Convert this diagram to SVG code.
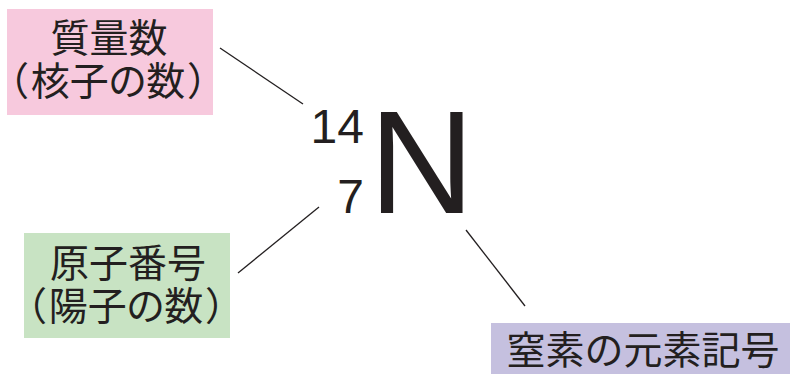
<svg xmlns="http://www.w3.org/2000/svg" width="790" height="374" viewBox="0 0 790 374">
<style>
.jp{font-family:"Noto Sans CJK JP","Noto Sans",sans-serif;font-size:39px;fill:#231f20;text-anchor:middle}
.pa{font-feature-settings:"palt"}
.el{font-family:"Liberation Sans",Arial,sans-serif;fill:#231f20}
.conn line{stroke:#231f20;stroke-width:1.3}
</style>
<rect width="790" height="374" fill="#ffffff"/>
<g id="mass-number">
<rect x="7" y="9" width="206" height="106" fill="#f7c9dd"/>
<text class="jp" x="109" y="52">質量数</text>
<text class="jp pa" x="108" y="95">（<tspan dx="3">核子の数</tspan><tspan dx="3">）</tspan></text>
</g>
<g id="atomic-number">
<rect x="24" y="233" width="206" height="105" fill="#c8e3c3"/>
<text class="jp" x="128" y="277">原子番号</text>
<text class="jp pa" x="126" y="320">（<tspan dx="3">陽子の数</tspan><tspan dx="3">）</tspan></text>
</g>
<g id="element-symbol">
<rect x="491" y="323" width="299" height="51" fill="#c5c0df"/>
<text class="jp" x="643" y="364">窒素の元素記号</text>
</g>
<g id="nuclide">
<text class="el" x="364" y="143" font-size="48" text-anchor="end">14</text>
<text class="el" x="364" y="213" font-size="48" text-anchor="end">7</text>
<text class="el" x="369" y="213" font-size="146">N</text>
</g>
<g class="conn" id="connectors">
<line x1="220" y1="48" x2="303" y2="104"/>
<line x1="238" y1="273" x2="319" y2="207"/>
<line x1="466" y1="230" x2="525" y2="306"/>
</g>
</svg>
